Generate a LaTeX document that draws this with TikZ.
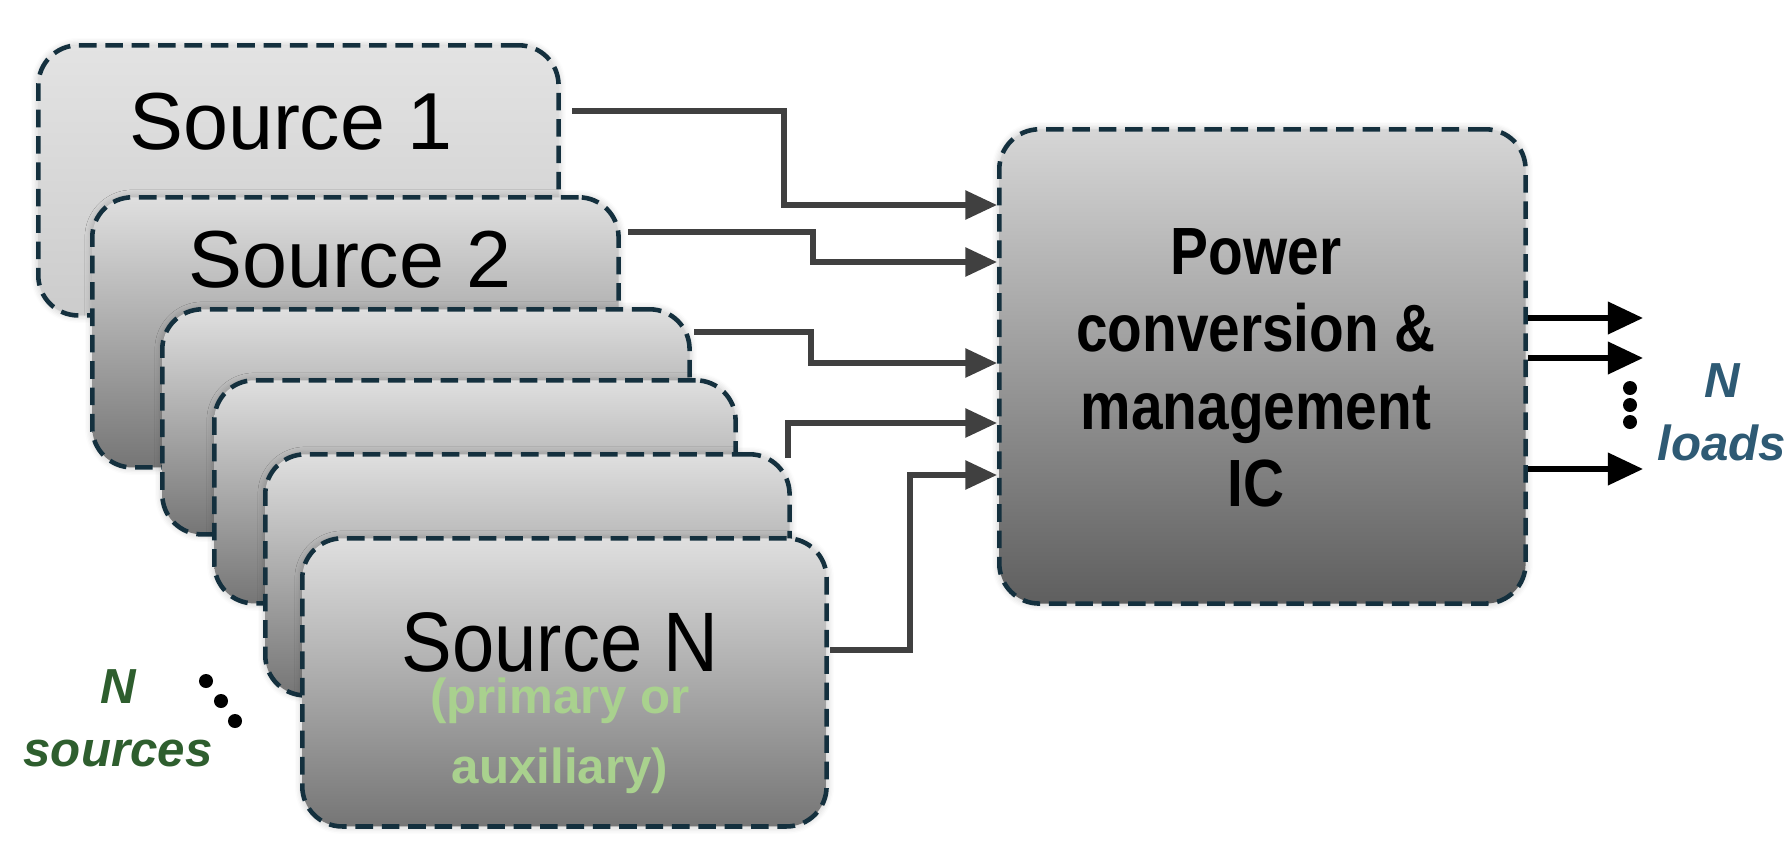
\documentclass[tikz,border=0pt]{standalone}
\usepackage{fontspec}
\setmainfont{Liberation Sans}
\usetikzlibrary{arrows.meta,shadows.blur}
\definecolor{bord}{HTML}{14303E}
\definecolor{wire}{HTML}{404040}
\definecolor{lgreen}{HTML}{A9D18E}
\definecolor{dgreen}{HTML}{2E5E2E}
\definecolor{lblue}{HTML}{2E5A74}
\begin{document}
\begin{tikzpicture}[x=0.01cm,y=-0.01cm,
  box/.style={draw=bord,line width=1.3pt,dash pattern=on 5pt off 2.5pt,rounded corners=0.4cm,
    top color=#1,bottom color=gray!65!black!80,blur shadow={shadow blur steps=6,shadow xshift=0pt,shadow yshift=0pt,shadow opacity=25}},
  box/.default={gray!25},
  wire/.style={draw=wire,line width=1.5pt,-{Triangle[length=9pt,width=8pt]}},
  outarr/.style={draw=black,line width=1.5pt,-{Triangle[length=10pt,width=9pt]}},
  dot/.style={circle,fill=black,inner sep=0pt,minimum size=0.14cm},
  lab/.style={font=\fontsize{23}{26}\selectfont}]
\useasboundingbox (0,0) rectangle (1788,848);
\node[box={gray!22},bottom color=gray!40,minimum width=5.2cm,minimum height=2.7cm,anchor=north west] (s1) at (36,43) {};
\node[lab] (t1) at (291,122) {Source 1};
\node[box,minimum width=5.26cm,minimum height=2.7cm,anchor=north west] (s2) at (90,195) {};
\node[lab] (t2) at (350,260) {Source 2};
\node[box,minimum width=5.27cm,minimum height=2.25cm,anchor=north west] (s3) at (160,307) {};
\node[box,minimum width=5.21cm,minimum height=2.23cm,anchor=north west] (s4) at (212,378) {};
\node[box,minimum width=5.24cm,minimum height=2.41cm,anchor=north west] (s5) at (263,452) {};
\node[box,minimum width=5.24cm,minimum height=2.88cm,anchor=north west] (sn) at (300,536) {};
\node[font=\fontsize{24}{26}\selectfont] (tn) at (560,642) {\scalebox{0.9}[1]{Source N}};
\node[font=\bfseries\fontsize{14}{16}\selectfont,text=lgreen,align=center] (tn2) at (560,736) {(primary or\\[4pt]auxiliary)};
\node[box={gray!32},bottom color=gray!60!black!90,minimum width=5.26cm,minimum height=4.74cm,anchor=north west] (pw) at (997,127) {};
\node[font=\bfseries\fontsize{19}{22}\selectfont,align=center] (pt) at (1256,368) {\scalebox{0.85}[1]{Power}\\\scalebox{0.85}[1]{conversion \&}\\\scalebox{0.85}[1]{management}\\\scalebox{0.85}[1]{IC}};
% connectors
\coordinate (a1) at (572,111);
\coordinate (a2) at (628,232);
\coordinate (a3) at (694,332);
\coordinate (a4) at (788,458);
\coordinate (a5) at (830,650);
\draw[wire] (a1) -- (784,111) -- (784,205) -- (pw.west |- 0,205);
\draw[wire] (a2) -- (813,232) -- (813,262) -- (pw.west |- 0,262);
\draw[wire] (a3) -- (811,332) -- (811,363) -- (pw.west |- 0,363);
\draw[wire] (a4) -- (788,423) -- (pw.west |- 0,423);
\draw[wire] (a5) -- (910,650) -- (910,475) -- (pw.west |- 0,475);
% outputs
\coordinate (o1) at (1643,318);
\coordinate (o2) at (1643,358);
\coordinate (o3) at (1643,469);
\draw[outarr] (pw.east |- o1) -- (o1);
\draw[outarr] (pw.east |- o2) -- (o2);
\draw[outarr] (pw.east |- o3) -- (o3);
\node[dot] (d1) at (1630,388) {};
\node[dot] (d2) at (1630,405) {};
\node[dot] (d3) at (1630,422) {};
\node[font=\bfseries\itshape\fontsize{14}{18}\selectfont,text=lblue,align=center] (nl) at (1722,412) {N\\loads};
% N sources
\node[dot] (e1) at (206,681) {};
\node[dot] (e2) at (221,701) {};
\node[dot] (e3) at (235,721) {};
\node[font=\bfseries\itshape\fontsize{14}{18}\selectfont,text=dgreen,align=center] (ns) at (118,718) {N\\sources};
\end{tikzpicture}
\end{document}
